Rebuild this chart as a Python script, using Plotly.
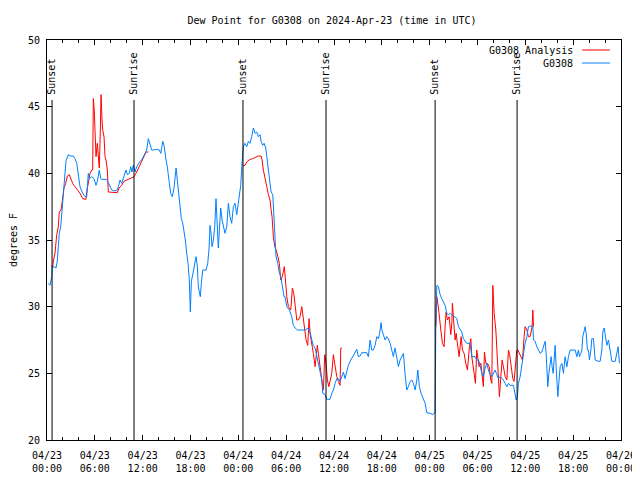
import pandas as pd
import plotly.graph_objects as go

TITLE = "Dew Point for G0308 on 2024-Apr-23 (time in UTC)"
BASE = "2024-04-23 00:00"

# Observed dew point (G0308): hours after BASE, degrees F
obs_hours = [0.16, 0.38, 0.59, 0.66, 0.88, 1.13, 1.29, 1.54, 1.72, 1.88, 2.05, 2.17, 2.38, 2.67, 2.89, 3.30, 3.51, 3.73, 3.93, 4.14,
             4.48, 4.77, 4.98, 5.06, 5.18, 5.31, 5.61, 5.90, 6.15, 6.31, 6.56, 6.74, 6.86, 7.49, 7.69, 7.90, 8.12, 8.32, 8.75, 8.95,
             9.16, 9.37, 9.57, 9.79, 9.91, 10.08, 10.33, 10.50, 10.66, 10.83, 11.04, 11.25, 11.46, 11.67, 11.88, 12.08, 12.30, 12.51, 12.71, 12.92,
             13.14, 13.34, 13.76, 14.09, 14.27, 14.52, 14.68, 14.93, 15.09, 15.35, 15.52, 15.72, 15.93, 16.19, 16.35, 16.52, 16.69, 16.85, 17.03, 17.19,
             17.35, 17.53, 17.69, 17.85, 17.98, 18.11, 18.28, 18.44, 18.61, 18.70, 18.86, 18.98, 19.11, 19.23, 19.36, 19.54, 19.95, 20.16, 20.33, 20.45,
             20.58, 20.70, 20.87, 21.04, 21.20, 21.33, 21.49, 21.62, 21.79, 21.96, 22.12, 22.33, 22.55, 22.75, 22.96, 23.17, 23.38, 23.59, 23.80, 24.00,
             24.13, 24.30, 24.43, 24.63, 24.84, 25.06, 25.26, 25.47, 25.68, 25.88, 26.10, 26.31, 26.51, 26.73, 26.85, 27.06, 27.23, 27.44, 27.57, 27.77,
             27.98, 28.11, 28.32, 28.39, 28.48, 28.61, 28.73, 28.95, 29.15, 29.32, 29.57, 29.74, 29.86, 30.08, 30.40, 30.70, 30.90, 31.12, 31.41, 32.37,
             32.79, 33.00, 33.21, 33.41, 33.63, 33.84, 34.04, 34.25, 34.47, 34.59, 34.88, 35.09, 35.51, 35.72, 35.92, 36.14, 36.35, 36.55, 36.76, 36.98,
             37.18, 37.39, 37.60, 37.80, 38.02, 38.23, 38.43, 38.64, 38.86, 39.06, 39.27, 39.49, 40.11, 40.31, 40.53, 40.74, 40.94, 41.15, 41.37, 41.57,
             41.69, 41.91, 42.00, 42.20, 42.41, 42.62, 42.82, 43.04, 43.25, 43.45, 43.66, 43.88, 44.08, 44.29, 44.50, 44.71, 44.92, 45.13, 45.33, 45.55,
             45.76, 45.96, 46.17, 46.39, 46.51, 46.71, 46.93, 47.21, 47.43, 47.64, 48.06, 48.39, 48.68, 48.77, 48.90, 49.10, 49.31, 49.52, 49.72, 49.94,
             50.15, 50.35, 50.56, 50.78, 50.98, 51.19, 51.40, 51.61, 51.82, 52.03, 52.23, 52.45, 52.66, 53.07, 53.29, 53.70, 53.91, 54.12, 54.33, 54.54,
             54.74, 54.96, 55.17, 55.37, 55.58, 55.80, 56.00, 56.21, 56.42, 56.63, 56.84, 57.05, 57.25, 57.47, 57.68, 57.88, 58.09, 58.51, 58.72, 58.85,
             59.01, 59.13, 59.35, 59.56, 59.76, 59.97, 60.19, 60.39, 60.60, 60.94, 61.02, 61.23, 61.44, 61.64, 61.86, 62.07, 62.27, 62.48, 62.61, 62.73,
             62.82, 62.95, 63.11, 63.24, 63.36, 63.49, 63.61, 63.74, 63.86, 63.95, 64.08, 64.20, 64.37, 64.58, 64.78, 64.99, 65.21, 65.41, 65.62, 66.25,
             66.46, 66.66, 66.79, 66.96, 67.09, 67.21, 67.38, 67.50, 67.63, 67.79, 67.92, 68.04, 68.22, 68.34, 68.54, 68.67, 68.76, 69.17, 69.38, 69.60,
             69.72, 69.89, 70.05, 70.23, 70.43, 70.55, 70.73, 70.85, 71.27, 71.48, 71.64, 71.81]
obs_values = [31.75, 31.6, 32.25, 32.9, 33.0, 32.9, 33.4, 35.5, 36.0, 37.25, 39.0, 40.0, 40.9, 41.4, 41.3, 41.3, 41.1, 40.75, 40.0, 39.0,
              38.5, 38.25, 38.25, 39.0, 40.0, 39.6, 39.75, 39.6, 39.1, 39.4, 40.25, 39.6, 39.55, 39.55, 39.25, 39.0, 38.75, 38.7, 38.7, 39.0,
              39.5, 39.25, 39.6, 39.9, 40.25, 39.9, 40.0, 40.5, 40.1, 40.6, 40.1, 40.5, 40.75, 40.9, 41.0, 41.25, 41.5, 41.75, 42.6, 42.1,
              41.75, 41.75, 41.8, 41.75, 41.5, 42.4, 42.1, 41.0, 40.5, 39.25, 38.5, 38.25, 38.9, 40.4, 39.4, 38.25, 37.5, 36.6, 36.25, 35.75,
              35.0, 34.0, 33.25, 32.0, 29.6, 31.9, 32.6, 32.9, 33.5, 33.75, 33.0, 31.5, 31.1, 30.75, 31.75, 32.75, 32.75, 33.25, 34.4, 36.1,
              35.5, 34.5, 35.0, 36.0, 38.1, 36.75, 34.4, 35.75, 37.4, 36.5, 36.0, 35.5, 36.0, 37.75, 36.75, 36.25, 37.5, 37.75, 36.9, 37.75,
              38.25, 39.1, 40.5, 42.0, 42.25, 42.0, 42.4, 42.25, 42.75, 43.4, 43.0, 43.1, 42.75, 42.9, 42.4, 42.1, 42.25, 41.9, 41.25, 40.1,
              39.25, 38.6, 38.4, 37.5, 35.75, 34.25, 33.75, 33.25, 32.5, 32.25, 31.1, 30.75, 30.75, 30.0, 29.75, 29.25, 28.6, 28.4, 28.25, 28.25,
              28.4, 28.1, 27.5, 27.1, 26.9, 26.25, 25.75, 25.1, 24.5, 23.5, 23.4, 23.05, 23.05, 23.5, 23.75, 24.25, 24.6, 24.6, 24.4, 24.75,
              25.1, 24.6, 25.25, 25.6, 25.9, 26.1, 26.3, 26.5, 26.8, 26.25, 26.3, 26.55, 26.55, 26.25, 27.5, 26.75, 26.75, 27.1, 27.75, 27.6,
              27.9, 28.8, 28.25, 27.9, 27.5, 27.75, 27.6, 27.25, 26.75, 26.25, 26.9, 26.0, 25.5, 26.0, 26.25, 26.5, 24.9, 23.75, 24.0, 24.4,
              24.5, 24.25, 23.75, 24.5, 25.25, 24.0, 23.5, 23.0, 22.75, 22.05, 22.0, 21.9, 22.05, 28.5, 31.6, 31.5, 30.9, 30.6, 30.4, 30.1,
              29.5, 29.4, 29.5, 29.4, 29.25, 29.25, 29.1, 28.5, 28.25, 28.1, 27.6, 27.4, 27.25, 27.25, 26.25, 26.25, 26.0, 26.0, 25.6, 25.0,
              24.75, 25.4, 25.75, 25.25, 24.9, 24.75, 25.0, 25.25, 24.9, 24.6, 24.75, 24.6, 24.5, 24.25, 24.0, 24.25, 24.1, 24.1, 23.25, 23.0,
              23.25, 24.25, 24.75, 25.75, 26.5, 27.25, 27.75, 28.5, 28.55, 28.5, 27.5, 27.4, 27.0, 26.75, 26.5, 26.6, 27.0, 27.4, 26.5, 24.75,
              24.0, 25.0, 25.75, 26.25, 25.5, 25.0, 26.0, 27.1, 25.5, 24.25, 23.25, 24.25, 25.5, 25.75, 25.0, 26.25, 25.5, 26.25, 26.75, 26.75,
              26.25, 26.75, 26.25, 26.5, 26.75, 27.75, 28.25, 28.5, 28.0, 26.75, 26.75, 26.0, 26.75, 27.6, 27.6, 26.75, 26.0, 25.9, 25.9, 26.75,
              28.1, 28.4, 27.6, 27.1, 27.5, 27.0, 26.25, 25.9, 25.9, 26.5, 27.0, 25.75]

# Analysis (G0308 Analysis): three separate periods
ana_hours_1 = [0.50, 0.72, 0.79, 1.00, 1.22, 1.42, 1.54, 1.76, 1.92, 2.13, 2.35, 2.55, 2.80, 3.01, 3.22, 3.51, 3.80, 4.14, 4.48, 4.77,
               4.89, 5.02, 5.18, 5.40, 5.61, 5.73, 5.81, 5.93, 6.02, 6.15, 6.31, 6.44, 6.56, 6.69, 6.78, 6.90, 6.99, 7.15, 7.28, 7.40,
               7.57, 7.69, 8.12, 8.53, 8.82, 9.03, 9.37, 9.66, 10.08, 10.50, 10.92, 11.25, 11.67, 12.08, 12.42, 12.71]
ana_values_1 = [33.0, 33.0, 33.4, 34.0, 35.4, 36.0, 37.1, 37.25, 37.9, 38.9, 39.25, 39.8, 39.9, 39.6, 39.25, 39.0, 38.8, 38.5, 38.1, 38.05,
                38.05, 38.75, 39.25, 40.0, 40.25, 40.25, 45.6, 44.75, 43.25, 41.25, 42.25, 41.25, 40.4, 43.25, 45.9, 44.0, 43.25, 42.75, 41.25, 41.0,
                40.25, 38.6, 38.6, 38.55, 38.55, 38.9, 39.1, 39.4, 39.5, 39.6, 39.75, 40.1, 40.6, 41.1, 41.6, 41.6]
ana_hours_2 = [24.55, 24.84, 25.13, 25.47, 25.81, 26.10, 26.51, 26.85, 26.98, 27.14, 27.35, 27.57, 27.77, 27.98, 28.11, 28.23, 28.39, 28.57, 28.82, 29.07,
               29.15, 29.32, 29.52, 29.77, 29.90, 30.08, 30.28, 30.58, 30.78, 30.95, 31.15, 31.33, 31.53, 31.74, 31.96, 32.16, 32.37, 32.50, 32.71, 32.87,
               33.00, 33.21, 33.41, 33.63, 33.91, 34.04, 34.25, 34.47, 34.67, 34.84, 35.01, 35.17, 35.35, 35.51, 35.72, 35.92, 36.14, 36.35, 36.55, 36.76,
               36.85, 36.98]
ana_values_2 = [40.6, 40.6, 40.9, 41.05, 41.1, 41.2, 41.3, 41.3, 41.0, 40.25, 39.75, 39.0, 38.4, 38.0, 37.25, 36.75, 35.25, 34.5, 34.1, 33.5,
                33.25, 32.0, 32.25, 33.0, 32.0, 30.75, 30.0, 29.75, 31.4, 31.0, 30.0, 29.0, 29.0, 29.25, 30.0, 29.0, 28.1, 27.5, 27.1, 29.1,
                28.0, 27.0, 26.5, 25.5, 27.1, 26.5, 25.4, 24.5, 23.75, 26.4, 25.75, 24.5, 24.0, 24.5, 25.0, 26.4, 25.5, 24.75, 24.4, 24.1,
                26.9, 26.9]
ana_hours_3 = [48.77, 48.90, 49.10, 49.22, 49.40, 49.60, 49.81, 49.94, 50.06, 50.23, 50.44, 50.65, 50.78, 50.85, 50.98, 51.19, 51.32, 51.48, 51.69, 51.82,
               51.95, 52.11, 52.32, 52.53, 52.74, 52.99, 53.16, 53.29, 53.49, 53.61, 53.74, 53.91, 54.04, 54.20, 54.42, 54.54, 54.74, 54.87, 55.04, 55.24,
               55.46, 55.67, 55.80, 55.92, 56.09, 56.30, 56.42, 56.63, 56.75, 56.93, 57.09, 57.25, 57.47, 57.68, 57.88, 58.01, 58.18, 58.31, 58.43, 58.59,
               58.76, 58.93, 59.06, 59.26, 59.47, 59.64, 59.85, 59.97, 60.19, 60.39, 60.60, 60.73, 60.85, 60.94, 61.02]
ana_values_3 = [28.5, 30.75, 29.9, 29.0, 28.25, 27.25, 27.0, 28.5, 29.6, 29.0, 29.25, 27.9, 28.75, 30.25, 29.0, 27.5, 28.0, 27.0, 26.25, 27.0,
                27.75, 26.75, 26.5, 25.75, 25.25, 27.0, 27.6, 26.25, 25.5, 25.0, 24.25, 26.75, 26.0, 25.5, 25.75, 25.0, 24.0, 26.6, 25.75, 25.75,
                25.5, 24.5, 24.25, 31.6, 29.5, 28.25, 26.75, 25.25, 23.25, 24.75, 26.0, 25.5, 24.75, 24.5, 26.75, 26.5, 25.75, 25.25, 24.6, 24.4,
                25.75, 26.75, 26.75, 26.5, 26.25, 26.0, 27.75, 28.5, 28.25, 27.75, 27.75, 28.25, 28.5, 29.75, 28.5]

# Sun events
sun_labels = ["Sunset", "Sunrise", "Sunset", "Sunrise", "Sunset", "Sunrise"]
sun_times = ["2024-04-23 00:38", "2024-04-23 10:55", "2024-04-24 00:35",
             "2024-04-24 11:00", "2024-04-25 00:41", "2024-04-25 10:58"]

RED = "#ff0000"
BLUE = "#0080ff"
FONT = "DejaVu Sans Mono"

# page body has an 8px default margin; figure is sized to fit the 640x480 window
W, H = 632, 472
L, R, T, B = 39, 19, 32, 40
PW, PH = W - L - R, H - T - B

base = pd.Timestamp(BASE)


def to_times(hours):
    return list(base + pd.to_timedelta(hours, unit="h"))


ana_x, ana_y = [], []
for hrs, vals in [(ana_hours_1, ana_values_1), (ana_hours_2, ana_values_2), (ana_hours_3, ana_values_3)]:
    ana_x += to_times(hrs) + [None]
    ana_y += vals + [None]

fig = go.Figure()
fig.add_trace(go.Scatter(x=ana_x, y=ana_y, mode="lines", name="G0308 Analysis",
                         line=dict(color=RED, width=1), connectgaps=False))
fig.add_trace(go.Scatter(x=to_times(obs_hours), y=obs_values, mode="lines", name="G0308",
                         line=dict(color=BLUE, width=1)))

for lab, t in zip(sun_labels, sun_times):
    fig.add_shape(type="line", xref="x", yref="y", x0=t, x1=t, y0=20, y1=45.5,
                  line=dict(color="black", width=1))
    fig.add_annotation(x=t, y=45.75, xref="x", yref="y", text=lab, textangle=-90,
                       showarrow=False, yanchor="bottom", xanchor="center",
                       font=dict(family=FONT, size=10, color="black"))

# gnuplot-style legend (text then line sample), top right inside
for i, (name, col) in enumerate([("G0308 Analysis", RED), ("G0308", BLUE)]):
    ypix = 10 + 13 * i           # pixels below top of plot area
    yp = 1 - ypix / PH
    fig.add_annotation(xref="paper", yref="paper", x=(PW - 46) / PW, y=yp, text=name,
                       showarrow=False, xanchor="right", yanchor="middle",
                       font=dict(family=FONT, size=10, color="black"))
    fig.add_shape(type="line", xref="paper", yref="paper",
                  x0=(PW - 39) / PW, x1=(PW - 11) / PW, y0=yp, y1=yp,
                  line=dict(color=col, width=1))

fig.update_layout(
    width=W, height=H,
    margin=dict(l=L, r=R, t=T, b=B),
    paper_bgcolor="white", plot_bgcolor="white",
    showlegend=False,
    font=dict(family=FONT, size=10, color="black"),
    title=dict(text=TITLE, x=(L + PW / 2 - 2) / W, xanchor="center", y=1 - 12 / H, yanchor="middle",
               font=dict(family=FONT, size=10, color="black")),
)
fig.update_xaxes(
    type="date", range=["2024-04-23 00:00", "2024-04-26 00:00"],
    dtick=6 * 3600 * 1000, tick0="2024-04-23 00:00", tickformat="%m/%d<br>%H:%M",
    ticks="inside", ticklen=5, tickcolor="black", showline=True, linecolor="black", linewidth=1,
    mirror="allticks", showgrid=False, zeroline=False, automargin=False,
    minor=dict(dtick=2 * 3600 * 1000, ticks="inside", ticklen=3, tickcolor="black", showgrid=False),
    tickfont=dict(family=FONT, size=10, color="black"), ticklabelstandoff=6,
)
fig.update_yaxes(
    range=[20, 50], dtick=5, ticks="inside", ticklen=5, tickcolor="black",
    showline=True, linecolor="black", linewidth=1, mirror="allticks",
    showgrid=False, zeroline=False, automargin=False,
    title=dict(text="degrees F", font=dict(family=FONT, size=10, color="black"), standoff=14),
    tickfont=dict(family=FONT, size=10, color="black"), ticklabelstandoff=4,
)

fig.write_html("out.html")
